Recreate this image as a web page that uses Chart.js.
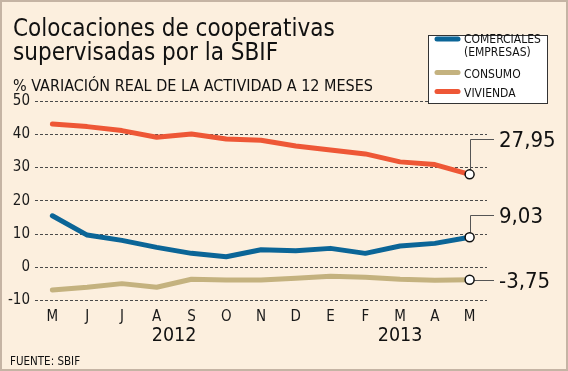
<!DOCTYPE html>
<html>
<head>
<meta charset="utf-8">
<script src="https://cdn.jsdelivr.net/npm/chart.js@4"></script>
<style>
  html, body { margin: 0; padding: 0; background: #fcefde; }
  canvas { display: block; }
</style>
</head>
<body>
<canvas id="chart" width="568" height="371"></canvas>
<script>
const months = ['M', 'J', 'J', 'A', 'S', 'O', 'N', 'D', 'E', 'F', 'M', 'A', 'M'];
const yearLabels = ['2012', '2013'];
const yearCenters = [3.5, 10];

const comerciales = [15.5, 9.7, 8.1, 6.0, 4.2, 3.2, 5.3, 5.0, 5.7, 4.2, 6.4, 7.2, 9.03];
const consumo = [-6.8, -6.0, -4.9, -6.0, -3.6, -3.8, -3.8, -3.3, -2.7, -3.0, -3.6, -3.9, -3.75];
const vivienda = [43.1, 42.3, 41.1, 39.1, 40.1, 38.6, 38.2, 36.5, 35.3, 34.1, 31.7, 30.9, 27.95];

const seriesNames = [['COMERCIALES', '(EMPRESAS)'], ['CONSUMO'], ['VIVIENDA']];
const titleLines = ['Colocaciones de cooperativas', 'supervisadas por la SBIF'];
const subtitle = '% VARIACIÓN REAL DE LA ACTIVIDAD A 12 MESES';
const source = 'FUENTE: SBIF';

const FONT = '"DejaVu Sans Condensed", "DejaVu Sans", sans-serif';
const BG = '#fcefde';
const COLORS = ['#0b6597', '#c4b27f', '#ee5736'];
// how far the value label sits above the last point, per series
const LEADER_RISE = [22, 0, 35];

Chart.defaults.font.family = FONT;
Chart.defaults.color = '#1a1a1a';

function fmt(v) {
    return v.toFixed(2).replace('.', ',');
}

const background = {
    id: 'background',
    beforeDraw(chart) {
        const ctx = chart.ctx;
        ctx.save();
        ctx.fillStyle = BG;
        ctx.fillRect(0, 0, chart.width, chart.height);
        ctx.restore();
    }
};

const leaders = {
    id: 'leaders',
    beforeDatasetsDraw(chart) {
        const ctx = chart.ctx;
        ctx.save();
        ctx.strokeStyle = '#555';
        ctx.lineWidth = 1;
        chart.data.datasets.forEach((ds, i) => {
            const pt = chart.getDatasetMeta(i).data[ds.data.length - 1];
            const rise = LEADER_RISE[i];
            ctx.beginPath();
            if (rise > 0) {
                ctx.moveTo(Math.round(pt.x) + 0.5, pt.y);
                ctx.lineTo(Math.round(pt.x) + 0.5, Math.round(pt.y - rise) + 0.5);
                ctx.lineTo(494, Math.round(pt.y - rise) + 0.5);
            } else {
                ctx.moveTo(pt.x, Math.round(pt.y) + 0.5);
                ctx.lineTo(494, Math.round(pt.y) + 0.5);
            }
            ctx.stroke();
        });
        ctx.restore();
    }
};

const decorations = {
    id: 'decorations',
    afterDraw(chart) {
        const ctx = chart.ctx;
        const x = chart.scales.x;
        ctx.save();
        ctx.fillStyle = '#111';
        ctx.textAlign = 'left';
        ctx.textBaseline = 'alphabetic';

        // title + subtitle
        ctx.font = `24px ${FONT}`;
        ctx.fillText(titleLines[0], 13, 36);
        ctx.fillText(titleLines[1], 13, 60);
        ctx.font = `16px ${FONT}`;
        ctx.fillText(subtitle, 13, 90.5);

        // years under the month ticks
        ctx.font = `19.5px ${FONT}`;
        ctx.textAlign = 'center';
        yearLabels.forEach((yl, i) => {
            ctx.fillText(yl, x.getPixelForValue(yearCenters[i]), 341);
        });

        // last values
        ctx.font = `22px ${FONT}`;
        ctx.textAlign = 'left';
        chart.data.datasets.forEach((ds, i) => {
            const pt = chart.getDatasetMeta(i).data[ds.data.length - 1];
            const ly = pt.y - LEADER_RISE[i];
            ctx.fillText(fmt(ds.data[ds.data.length - 1]), 499, ly + 8);
        });

        // legend box
        ctx.fillStyle = '#fff';
        ctx.fillRect(428, 35, 119, 68);
        ctx.strokeStyle = '#333';
        ctx.lineWidth = 1;
        ctx.strokeRect(428.5, 35.5, 119, 68);
        const swatchY = [39, 72.5, 91.5];
        const textY = [[42.8, 55.8], [78], [97]];
        ctx.font = `12px ${FONT}`;
        ctx.lineCap = 'round';
        seriesNames.forEach((lines, i) => {
            ctx.strokeStyle = COLORS[i];
            ctx.lineWidth = 5;
            ctx.beginPath();
            ctx.moveTo(437, swatchY[i]);
            ctx.lineTo(458, swatchY[i]);
            ctx.stroke();
            ctx.fillStyle = '#111';
            lines.forEach((t, j) => ctx.fillText(t, 464, textY[i][j]));
        });

        // source
        ctx.font = `11.5px ${FONT}`;
        ctx.fillText(source, 10, 365);

        // frame
        ctx.strokeStyle = '#c5b4a4';
        ctx.lineWidth = 2;
        ctx.strokeRect(1, 1, chart.width - 2, chart.height - 2);
        ctx.restore();
    }
};

const lastIdx = months.length - 1;
function dataset(label, values, color) {
    return {
        label: label,
        data: values,
        borderColor: color,
        backgroundColor: color,
        borderWidth: 5,
        borderJoinStyle: 'round',
        borderCapStyle: 'round',
        tension: 0,
        pointRadius: c => c.dataIndex === lastIdx ? 4.5 : 0,
        pointHoverRadius: c => c.dataIndex === lastIdx ? 4.5 : 0,
        pointBackgroundColor: '#fff',
        pointBorderColor: '#111',
        pointBorderWidth: 1.5
    };
}

new Chart(document.getElementById('chart'), {
    type: 'line',
    data: {
        labels: months,
        datasets: [
            dataset('COMERCIALES (EMPRESAS)', comerciales, COLORS[0]),
            dataset('CONSUMO', consumo, COLORS[1]),
            dataset('VIVIENDA', vivienda, COLORS[2])
        ]
    },
    options: {
        responsive: false,
        animation: false,
        layout: {
            padding: { top: 101, right: 81, bottom: 0, left: 0 }
        },
        plugins: {
            legend: { display: false },
            tooltip: { enabled: false }
        },
        scales: {
            x: {
                offset: true,
                grid: { display: false },
                border: { display: false },
                ticks: {
                    font: { size: 15 },
                    padding: 0,
                    maxRotation: 0,
                    autoSkip: false
                },
                afterFit: s => { s.height = 70.4; }
            },
            y: {
                min: -10,
                max: 50,
                grid: {
                    color: '#4a4a4a',
                    lineWidth: 1,
                    drawTicks: false
                },
                border: { display: false, dash: [3, 2] },
                ticks: {
                    stepSize: 10,
                    font: { size: 15 },
                    padding: 5
                },
                afterFit: s => { s.width = 35; }
            }
        }
    },
    plugins: [background, leaders, decorations]
});
</script>
</body>
</html>
